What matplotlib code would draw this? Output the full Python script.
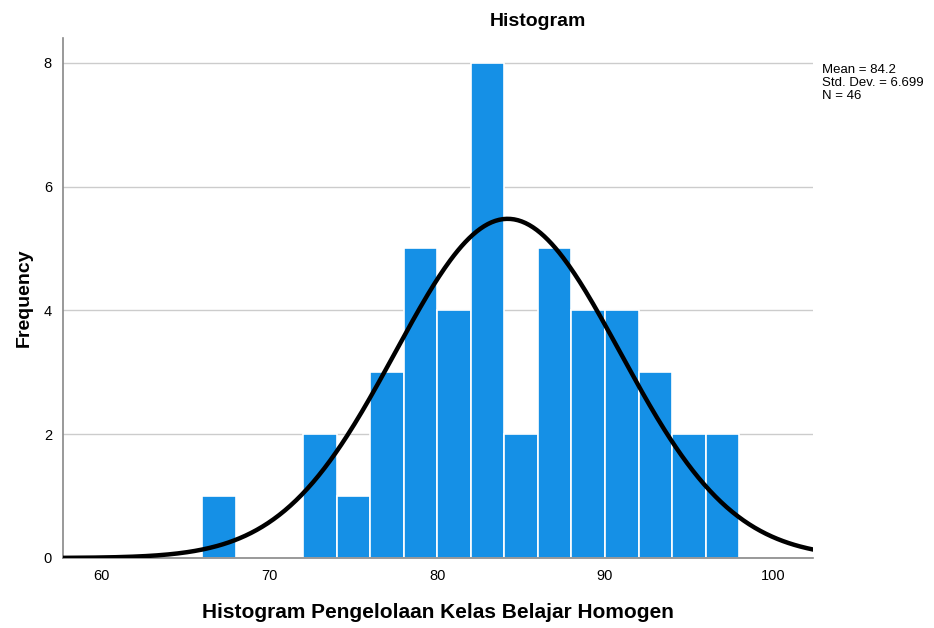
import numpy as np
import matplotlib.pyplot as plt

plt.rcParams['font.family'] = ['Liberation Sans', 'DejaVu Sans']

# histogram bins (left edges) and counts
bin_left = [66, 68, 70, 72, 74, 76, 78, 80, 82, 84, 86, 88, 90, 92, 94, 96]
counts = [1, 0, 0, 2, 1, 3, 5, 4, 8, 2, 5, 4, 4, 3, 2, 2]
bin_width = 2
mean = 84.2
std = 6.699
n = 46

fig = plt.figure(figsize=(9.34, 6.28), dpi=100)
ax = fig.add_axes([0.0675, 0.1115, 0.8030, 0.828])

ax.bar(bin_left, counts, width=bin_width, align='edge', color='#1590E6',
       edgecolor='white', linewidth=1.2, zorder=2)

xmin, xmax = 57.7, 102.4
x = np.linspace(xmin, xmax, 400)
y = n * bin_width * np.exp(-0.5 * ((x - mean) / std) ** 2) / (std * np.sqrt(2 * np.pi))
ax.plot(x, y, color='black', linewidth=3.2, zorder=3)

ax.set_xlim(xmin, xmax)
ax.set_ylim(0, 8.4)
ax.set_xticks([60, 70, 80, 90, 100])
ax.set_yticks([0, 2, 4, 6, 8])
ax.yaxis.grid(True, color='#cccccc', linewidth=1.0, zorder=0)
ax.set_axisbelow(True)
ax.tick_params(length=0, labelsize=10.5, pad=8)
for s in ['top', 'right']:
    ax.spines[s].set_visible(False)
for s in ['left', 'bottom']:
    ax.spines[s].set_color('#888888')
    ax.spines[s].set_linewidth(1.2)

fig.text(538 / 934, 1 - 21 / 628, 'Histogram', fontsize=14, fontweight='bold',
         ha='center', va='center')
ax.set_xlabel('Histogram Pengelolaan Kelas Belajar Homogen', fontsize=15,
              fontweight='bold', labelpad=14)
ax.set_ylabel('Frequency', fontsize=14, fontweight='bold', labelpad=8)

fig.text(822 / 934, 1 - 64 / 628,
         'Mean = %.1f\nStd. Dev. = %.3f\nN = %d' % (mean, std, n),
         fontsize=9.5, va='top', ha='left', linespacing=1.12)

fig.savefig('out.png', dpi=100)
